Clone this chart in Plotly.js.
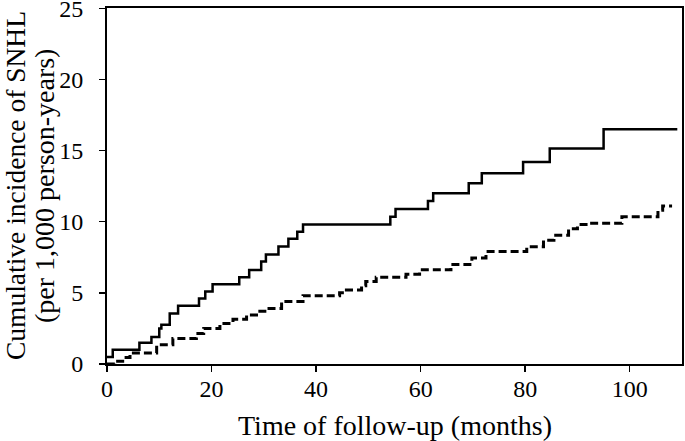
<!DOCTYPE html>
<html>
<head>
<meta charset="utf-8">
<script src="https://cdn.plot.ly/plotly-3.0.1.min.js"></script>
<style>html,body{margin:0;padding:0;background:#fff;}#chart{width:685px;height:441px;}</style>
</head>
<body>
<div id="chart"></div>
<script>
// Solid line (step curve): month at which each level starts, and the level
var solidMonths = [0, 1.1, 6.2, 8.5, 10.0, 10.4, 12.0, 13.6, 17.6, 18.8, 20.2, 25.3, 27.2, 29.5, 30.4, 32.8, 34.7, 36.4, 37.5, 54.2, 55.2, 61.4, 62.4, 69.2, 71.7, 79.6, 84.7, 95.0, 109.1];
var solidValues = [0.5, 1.0, 1.5, 1.9, 2.5, 2.75, 3.55, 4.1, 4.6, 5.1, 5.6, 6.1, 6.6, 7.2, 7.7, 8.25, 8.8, 9.3, 9.8, 10.35, 10.9, 11.45, 12.0, 12.7, 13.4, 14.2, 15.15, 16.5, 16.5];

// Dashed line (step curve)
var dashMonths = [0, 1.5, 3.0, 4.4, 9.5, 12.6, 17.1, 18.5, 21.6, 24.1, 26.7, 28.6, 30.5, 33.4, 37.5, 44.5, 45.8, 48.7, 49.5, 51.5, 57.2, 59.8, 65.8, 69.8, 72.5, 80.3, 83.5, 85.5, 88.3, 90.0, 92.0, 98.5, 105.4, 106.3, 108.1];
var dashValues = [0, 0.2, 0.45, 0.78, 1.35, 1.8, 2.15, 2.5, 2.85, 3.15, 3.45, 3.7, 3.9, 4.4, 4.8, 5.0, 5.2, 5.5, 5.8, 6.1, 6.3, 6.62, 7.0, 7.45, 7.9, 8.24, 8.7, 9.05, 9.5, 9.8, 9.9, 10.35, 10.8, 11.1, 11.1];

var xTicks = [0, 20, 40, 60, 80, 100];
var yTicks = [0, 5, 10, 15, 20, 25];
var xTitle = 'Time of follow-up (months)';
var yTitleLine1 = 'Cumulative incidence of SNHL';
var yTitleLine2 = '(per 1,000 person-years)';

var traces = [
  {x: solidMonths, y: solidValues, type: 'scatter', mode: 'lines',
   line: {shape: 'hv', color: '#000', width: 2.5}, showlegend: false, hoverinfo: 'skip'},
  {x: dashMonths, y: dashValues, type: 'scatter', mode: 'lines',
   line: {shape: 'hv', color: '#000', width: 3, dash: '8px,4px'}, showlegend: false, hoverinfo: 'skip'}
];

var fontFam = '"Liberation Serif", "Times New Roman", serif';
var titleFont = {family: fontFam, size: 28, color: '#000'};
var layout = {
  width: 685, height: 441,
  margin: {l: 107, r: 3, t: 8, b: 77, pad: 0},
  paper_bgcolor: '#fff', plot_bgcolor: '#fff',
  font: {family: fontFam, color: '#000', size: 20},
  xaxis: {
    range: [0, 110], tickvals: xTicks, ticktext: xTicks.map(String),
    showgrid: false, zeroline: false, showline: true, linecolor: '#000', linewidth: 2,
    mirror: true, ticks: 'outside', ticklen: 6, tickwidth: 1.5, tickcolor: '#000',
    ticklabelstandoff: -4,
    tickfont: {family: fontFam, size: 24, color: '#000'}
  },
  yaxis: {
    range: [0, 25.02], tickvals: yTicks, ticktext: yTicks.map(String),
    showgrid: false, zeroline: false, showline: true, linecolor: '#000', linewidth: 2,
    mirror: true, ticks: 'outside', ticklen: 6, tickwidth: 1.5, tickcolor: '#000',
    ticklabelstandoff: 11, ticklabeloverflow: 'allow',
    tickfont: {family: fontFam, size: 24, color: '#000'}
  },
  annotations: [
    {text: xTitle, xref: 'paper', yref: 'paper', x: 0.5, y: 0, xanchor: 'center', yanchor: 'middle',
     yshift: -61, showarrow: false, font: titleFont},
    {text: yTitleLine1, xref: 'paper', yref: 'paper', x: 0, y: 0.5, xanchor: 'center', yanchor: 'middle',
     xshift: -92, textangle: -90, showarrow: false, font: {family: fontFam, size: 27.5, color: '#000'}},
    {text: yTitleLine2, xref: 'paper', yref: 'paper', x: 0, y: 0.5, xanchor: 'center', yanchor: 'middle',
     xshift: -63, textangle: -90, showarrow: false, font: titleFont}
  ]
};

Plotly.newPlot('chart', traces, layout, {staticPlot: true, displayModeBar: false});
</script>
</body>
</html>
